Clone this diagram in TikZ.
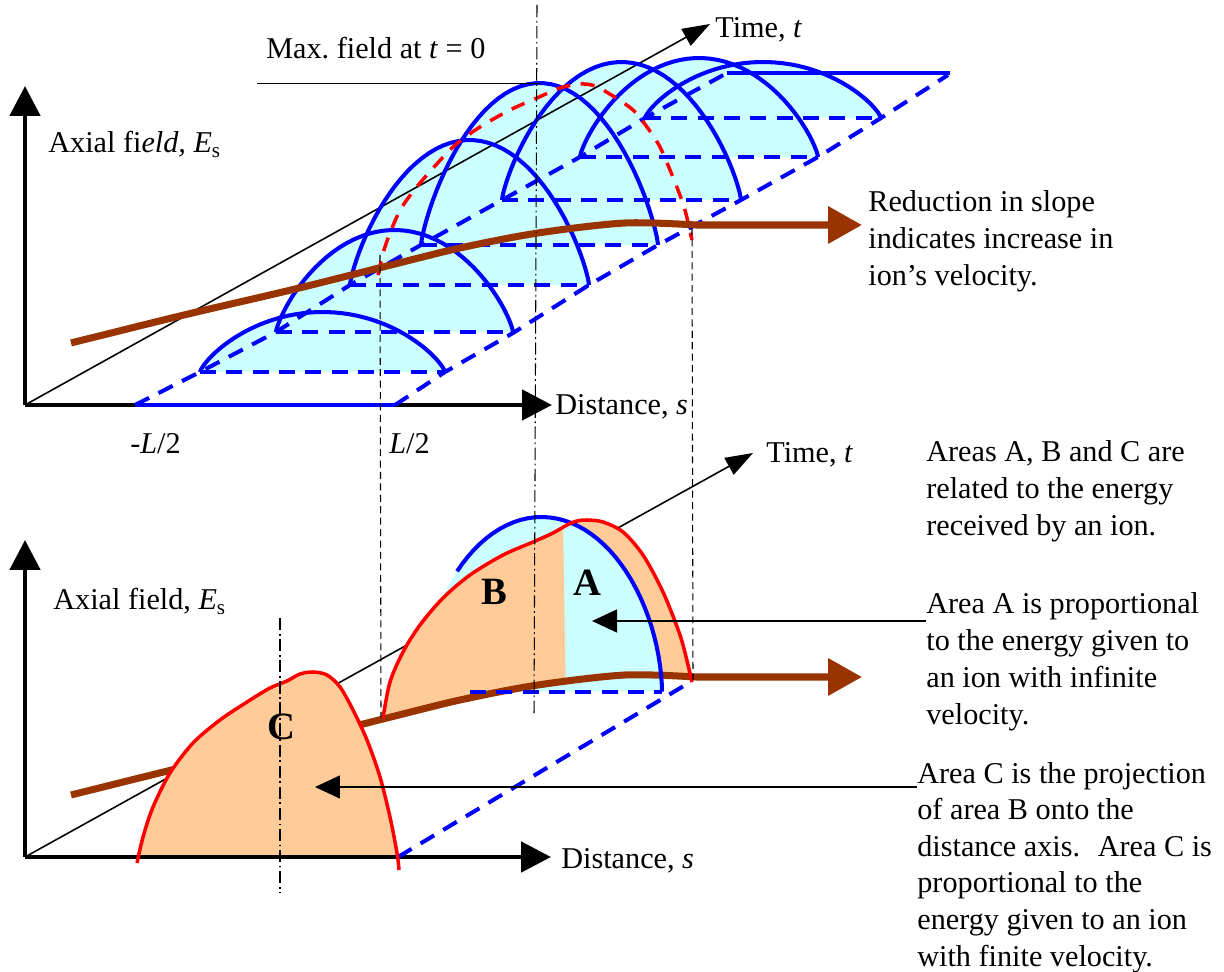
\documentclass[tikz,border=0pt]{standalone}
\usepackage{fontspec}
\setmainfont{Liberation Serif}
\usetikzlibrary{arrows.meta}
\definecolor{pulsefill}{HTML}{CCFFFF}
\definecolor{areafill}{HTML}{FFCC99}
\definecolor{ionbrown}{HTML}{993300}
\newcommand{\notefont}{\fontsize{17.2}{21}\selectfont}
\newcommand{\pulselist}{200/445/372/60, 276/513/332/102, 350/589/285/145, 421/658/245/162, 502/741/200/138, 580/818/157/99, 645/881/118/56}

\begin{document}
\begin{tikzpicture}[x=0.02cm, y=-0.02cm,
    axis/.style={line width=2.8pt, -{Triangle[length=0.6cm, width=0.6cm]}},
    timeaxis/.style={line width=0.9pt, -{Triangle[length=0.55cm, width=0.38cm]}},
    pulse/.style={blue, line width=2.3pt},
    pulsebase/.style={blue, line width=2.3pt, dash pattern=on 9pt off 6pt},
    fieldpath/.style={red, line width=2pt, dash pattern=on 8pt off 6pt},
    areaedge/.style={red, line width=2pt},
    ionpath/.style={ionbrown, line width=4pt},
    ionarrow/.style={ionpath, -{Triangle[length=0.68cm, width=0.72cm]}},
    guide/.style={line width=0.6pt, dash pattern=on 4pt off 2.5pt},
    centreline/.style={line width=0.6pt, dash pattern=on 7pt off 2pt on 1pt off 2pt},
    pointer/.style={line width=0.8pt, -{Triangle[length=0.5cm, width=0.46cm]}},
    lbl/.style={font=\notefont, inner sep=0pt, anchor=base west},
    note/.style={font=\notefont, inner sep=0pt, anchor=north west, align=left},
    areaname/.style={font=\fontsize{22}{26}\selectfont\bfseries, inner sep=0pt},
  ]
  \useasboundingbox (0,0) rectangle (1224,972);

  % upper plot
  \foreach \xl/\xr/\yb/\h in \pulselist
    \fill[pulsefill] plot[domain=0.2:179.8, samples=50]
      ({\xl+(\xr-\xl)*(1-cos(\x))/2}, {\yb-\h*pow(sin(\x),1.55)}) -- cycle;

  \coordinate (o1) at (25,405);
  \coordinate (e1) at (25,86);
  \coordinate (s1) at (552,405);
  \coordinate (t1) at (710,24);
  \draw[timeaxis] (o1) -- (t1);
  \draw[axis] (o1) -- (e1);
  \draw[axis] (o1) -- (s1);

  \draw[pulse] (135,405) -- (395,405);
  \draw[pulse] (727,73) -- (950,73);
  \draw[pulsebase] (135,405) -- (200,372) -- (276,332) -- (350,285) -- (421,245)
    -- (502,200) -- (580,157) -- (645,118) -- (727,73);
  \draw[pulsebase] (395,405) -- (445,372) -- (513,333) -- (589,285) -- (658,245)
    -- (741,200) -- (818,157) -- (881,118) -- (948,75);
  \foreach \xl/\xr/\yb/\h in \pulselist {
    \draw[pulsebase] (\xl,\yb) -- (\xr,\yb);
    \draw[pulse] plot[domain=0.2:179.8, samples=50]
      ({\xl+(\xr-\xl)*(1-cos(\x))/2}, {\yb-\h*pow(sin(\x),1.55)});
  }

  \draw[fieldpath] plot[smooth] coordinates {(378,275) (384,250) (392,228) (402,207)
    (420,183) (453,147) (480,127) (510,110) (537,98) (560,88) (580,84) (595,86)
    (613,96) (633,110) (647,127) (660,147) (670,170) (678,190) (685,210) (692,240)};

  \coordinate (r1) at (862,225);
  \draw[ionarrow] plot[smooth] coordinates {(71,343) (184,315) (291,290) (383,267)
    (460,248) (538,233) (625,223) (696,225)} -- (r1);

  \node[lbl] (field1) at (48,153) {Axial fi\textit{eld,} \textit{E}\textsubscript{s}};
  \node[lbl] (maxfield) at (266,59) {Max.\ field at \textit{t} = 0};
  \node[lbl] (time1) at (715,38) {Time, \textit{t}};
  \node[lbl] (dist1) at (555,415) {Distance, \textit{s}};
  \node[lbl] (minus) at (130,454) {-\textit{L}/2};
  \node[lbl] (plus) at (389,454) {\textit{L}/2};
  \node[note] (slope) at (868,190) {Reduction in slope\\indicates increase in\\ion’s velocity.};

  % lower plot
  \coordinate (o2) at (25,857);
  \coordinate (e2) at (25,540);
  \coordinate (s2) at (551,857);
  \coordinate (t2) at (753,453);
  \draw[timeaxis] (o2) -- (t2);

  \fill[pulsefill] plot[domain=0.2:179.8, samples=50]
    ({421+241*(1-cos(\x))/2}, {692-175*pow(sin(\x),1.1)}) -- cycle;
  \fill[areafill] plot[smooth] coordinates {(383,718) (390,682) (403,652) (420,625)
    (443,598) (470,575) (503,555) (533,542) (553,533) (567,525) (577,521) (587,520)
    (603,522) (623,532) (643,555) (663,592) (680,635) (688,665) (692,682)}
    -- plot[smooth] coordinates {(696,677) (625,675) (538,685) (460,700) (383,719)} -- cycle;
  \fill[pulsefill] (566,690) -- plot[domain=100.3:179.8, samples=30]
    ({421+241*(1-cos(\x))/2}, {692-175*pow(sin(\x),1.1)}) -- cycle;

  \coordinate (r2) at (862,677);
  \draw[ionarrow] plot[smooth] coordinates {(71,795) (184,767) (291,742) (383,719)
    (460,700) (538,685) (625,675) (696,677)} -- (r2);

  \begin{scope}
    \clip (0,0) rectangle (1224,857);
    \fill[areafill] plot[smooth] coordinates {(137,863) (143,837) (153,807) (170,773)
      (193,743) (220,720) (247,702) (270,688) (287,681) (300,674) (313,672) (327,675)
      (340,687) (353,710) (367,740) (380,777) (390,817) (397,853) (399,870)} -- cycle;
  \end{scope}

  \draw[axis] (o2) -- (e2);
  \draw[axis] (o2) -- (s2);

  \draw[pulse] plot[domain=45.5:179.8, samples=40]
    ({421+241*(1-cos(\x))/2}, {692-175*pow(sin(\x),1.1)});
  \draw[pulsebase] (470,692) -- (662,692);
  \draw[pulsebase] (398,857) -- (692,681);

  \draw[areaedge] plot[smooth] coordinates {(383,718) (390,682) (403,652) (420,625)
    (443,598) (470,575) (503,555) (533,542) (553,533) (567,525) (577,521) (587,520)
    (603,522) (623,532) (643,555) (663,592) (680,635) (688,665) (692,682)};
  \draw[areaedge] plot[smooth] coordinates {(137,863) (143,837) (153,807) (170,773)
    (193,743) (220,720) (247,702) (270,688) (287,681) (300,674) (313,672) (327,675)
    (340,687) (353,710) (367,740) (380,777) (390,817) (397,853) (399,870)};

  % lines through both plots
  \draw (257,83) -- (540,83);
  \draw[centreline] (537,5) -- (534,716);
  \draw[centreline] (280,618) -- (280,893);
  \draw[guide] (380,255) -- (381,717);
  \draw[guide] (692,228) -- (693,680);

  \node[lbl] (field2) at (53,610) {Axial field, \textit{E}\textsubscript{s}};
  \node[lbl] (time2) at (766,463) {Time, \textit{t}};
  \node[lbl] (dist2) at (561,868) {Distance, \textit{s}};
  \node[areaname] (areaB) at (494,592) {B};
  \node[areaname] (areaA) at (587,583) {A};
  \node[areaname] (areaC) at (281,727) {C};

  \node[note] (areas) at (926,440) {Areas A, B and C are\\related to the energy\\received by an ion.};
  \node[note] (noteA) at (926,592) {Area A is proportional\\to the energy given to\\an ion with infinite\\velocity.};
  \node[note, font=\fontsize{17.2}{20.8}\selectfont] (noteC) at (917,762) {Area C is the projection\\of area B onto the\\distance axis.~ Area C is\\proportional to the\\energy given to an ion\\with finite velocity.};

  \coordinate (tipA) at (592,621);
  \coordinate (tipC) at (315,787);
  \draw[pointer] (noteA.west |- tipA) -- (tipA);
  \draw[pointer] (noteC.west |- tipC) -- (tipC);
\end{tikzpicture}
\end{document}
